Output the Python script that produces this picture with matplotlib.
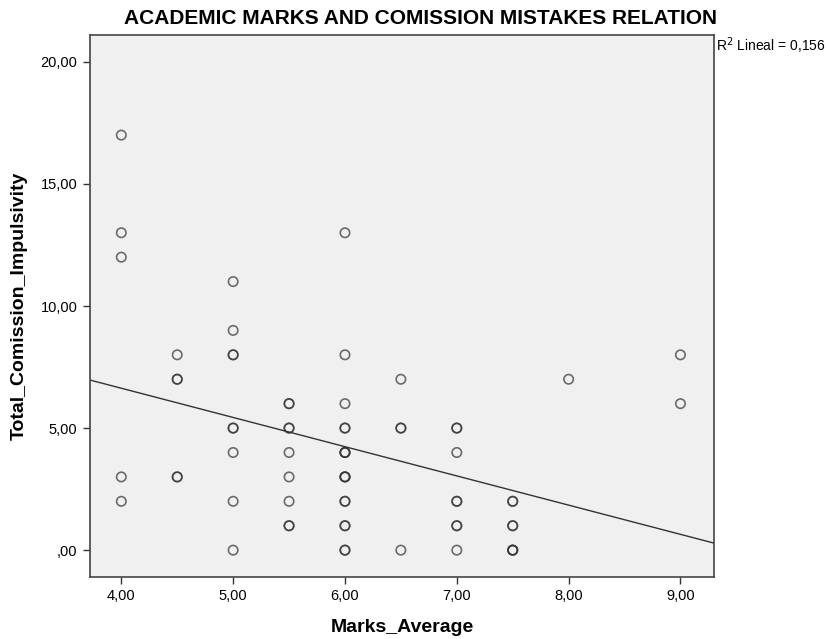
import matplotlib
matplotlib.use("Agg")
import matplotlib.pyplot as plt
from matplotlib import font_manager

# ---- data (repeated values = overlapping cases) ----
marks_average = [4.0, 4.0, 4.0, 4.0, 4.0,
                 4.5, 4.5, 4.5, 4.5, 4.5,
                 5.0, 5.0, 5.0, 5.0, 5.0, 5.0, 5.0, 5.0, 5.0,
                 5.5, 5.5, 5.5, 5.5, 5.5, 5.5, 5.5, 5.5, 5.5,
                 6.0, 6.0, 6.0, 6.0, 6.0, 6.0, 6.0, 6.0, 6.0, 6.0, 6.0, 6.0, 6.0, 6.0, 6.0, 6.0, 6.0,
                 6.5, 6.5, 6.5, 6.5,
                 7.0, 7.0, 7.0, 7.0, 7.0, 7.0, 7.0, 7.0,
                 7.5, 7.5, 7.5, 7.5, 7.5, 7.5, 7.5,
                 8.0,
                 9.0, 9.0]
total_comission = [17, 13, 12, 3, 2,
                   8, 7, 7, 3, 3,
                   11, 9, 8, 8, 5, 5, 4, 2, 0,
                   6, 6, 5, 5, 4, 3, 2, 1, 1,
                   13, 8, 6, 5, 5, 4, 4, 4, 3, 3, 3, 2, 2, 1, 1, 0, 0,
                   7, 5, 5, 0,
                   5, 5, 4, 2, 2, 1, 1, 0,
                   2, 2, 1, 1, 0, 0, 0,
                   7,
                   8, 6]

fit_intercept = 11.42
fit_slope = -1.197
r2_text = "R$^2$ Lineal = 0,156"

x_ticks = [4, 5, 6, 7, 8, 9]
y_ticks = [0, 5, 10, 15, 20]
x_limits = (3.72, 9.30)
y_limits = (-1.1, 21.1)

title = "ACADEMIC MARKS AND COMISSION MISTAKES RELATION"
x_label = "Marks_Average"
y_label = "Total_Comission_Impulsivity"

# ---- fonts ----
avail = {f.name for f in font_manager.fontManager.ttflist}
narrow = "Liberation Sans Narrow" if "Liberation Sans Narrow" in avail else "Liberation Sans"
plt.rcParams['font.family'] = [narrow, 'DejaVu Sans']

def fmt(v):
    s = f"{v:.2f}".replace('.', ',')
    return s[1:] if s.startswith('0,') else s

fig = plt.figure(figsize=(8.27, 6.39), dpi=100)
fig.patch.set_facecolor('white')
ax = fig.add_axes([90/827, 62/639, (714-90)/827, (577-35)/639])
ax.set_facecolor('#F0F0F0')

ax.scatter(marks_average, total_comission, s=46, facecolors='none',
           edgecolors=(0.2, 0.2, 0.2, 0.7), linewidths=1.2, zorder=3)

ax.set_xlim(*x_limits)
ax.set_ylim(*y_limits)
ax.axline((0, fit_intercept), slope=fit_slope, color='#333333', lw=1.0, zorder=2)

ax.set_xticks(x_ticks)
ax.set_xticklabels([fmt(v) for v in x_ticks], fontsize=10.5)
ax.set_yticks(y_ticks)
ax.set_yticklabels([fmt(v) for v in y_ticks], fontsize=10.5)
ax.tick_params(direction='out', length=5, width=1, color='#333333', pad=4)

for sp in ax.spines.values():
    sp.set_color('#444444')
    sp.set_linewidth(1.2)

ax.set_xlabel(x_label, fontsize=14, fontweight='bold', labelpad=11)
ax.set_ylabel(y_label, fontsize=14, fontweight='bold', labelpad=9)
fig.text(420/827, 1 - 18/639, title, ha='center', va='center',
         fontsize=15, fontweight='bold')
fig.text(716/827, 1 - 46/639, r2_text, ha='left', va='center', fontsize=10)

fig.savefig("out.png", dpi=100)
